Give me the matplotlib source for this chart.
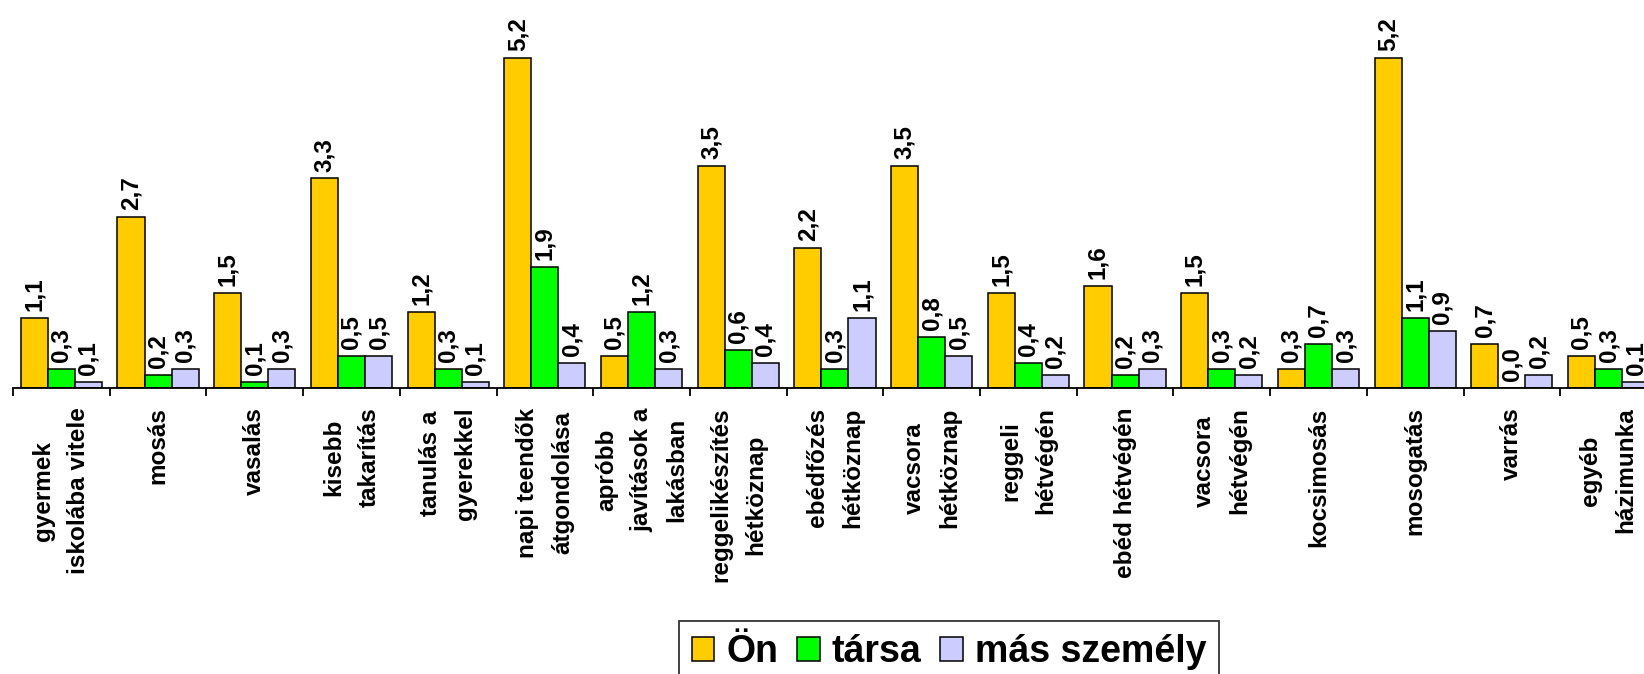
import numpy as np
import matplotlib
matplotlib.use("Agg")
import matplotlib.pyplot as plt

# ----------------------------
# Data
# ----------------------------
categories = [
    "gyermek\niskolába vitele", "mosás", "vasalás", "kisebb\ntakarítás",
    "tanulás a\ngyerekkel", "napi teendők\nátgondolása",
    "apróbb\njavítások a\nlakásban", "reggelikészítés\nhétköznap",
    "ebédfőzés\nhétköznap", "vacsora\nhétköznap", "reggeli\nhétvégén",
    "ebéd hétvégén", "vacsora\nhétvégén", "kocsimosás", "mosogatás",
    "varrás", "egyéb\nházimunka",
]
on = [1.1, 2.7, 1.5, 3.3, 1.2, 5.2, 0.5, 3.5, 2.2, 3.5, 1.5, 1.6, 1.5, 0.3, 5.2, 0.7, 0.5]
tarsa = [0.3, 0.2, 0.1, 0.5, 0.3, 1.9, 1.2, 0.6, 0.3, 0.8, 0.4, 0.2, 0.3, 0.7, 1.1, 0.0, 0.3]
mas = [0.1, 0.3, 0.3, 0.5, 0.1, 0.4, 0.3, 0.4, 1.1, 0.5, 0.2, 0.3, 0.2, 0.3, 0.9, 0.2, 0.1]

series = [("Ön", on, "#FFCC00"), ("társa", tarsa, "#00FF00"), ("más személy", mas, "#CCCCFF")]

plt.rcParams['font.family'] = ['Liberation Sans', 'DejaVu Sans']
plt.rcParams['font.weight'] = 'bold'

W, H = 1644, 674
fig = plt.figure(figsize=(W / 100, H / 100), dpi=100)
# axes extends past right edge, like the original (last group cut off)
x0 = 13 / W
step = 96.7 / W
ax = fig.add_axes([x0, (H - 388) / H, step * len(categories), 388 / H])

x = np.arange(len(categories))
bw = 0.28
for k, (name, vals, col) in enumerate(series):
    pos = x + (k - 1) * bw
    bars = ax.bar(pos, vals, bw, color=col, edgecolor='black', linewidth=1.1, label=name)
    for b, v in zip(bars, vals):
        ax.annotate(f"{v:.1f}".replace(".", ","), (b.get_x() + b.get_width() / 2, v),
                    xytext=(0, 5), textcoords='offset points', rotation=90,
                    ha='center', va='bottom', fontsize=17.5, fontweight='bold')

ax.set_xlim(-0.5, len(categories) - 0.5)
ax.set_ylim(0, 388 / 63.5)

for s in ['left', 'right', 'top']:
    ax.spines[s].set_visible(False)
ax.spines['bottom'].set_linewidth(1.3)
ax.set_yticks([])

# boundary ticks
ax.set_xticks(np.arange(len(categories) + 1) - 0.5)
ax.set_xticklabels([])
ax.tick_params(axis='x', which='major', length=6, width=1.3, direction='out')
# category labels
ax.set_xticks(x, minor=True)
ax.set_xticklabels(categories, minor=True, rotation=90, fontsize=17.5, fontweight='bold')
ax.tick_params(axis='x', which='minor', length=0, pad=14)
for lab in ax.get_xticklabels(minor=True):
    lab.set_multialignment('center')
    lab.set_linespacing(1.68)

leg = fig.legend(loc='upper center', bbox_to_anchor=(949 / W, 1 - 621 / H), ncol=3,
                 frameon=True, fancybox=False, edgecolor='black', fontsize=27,
                 handlelength=0.6, handleheight=0.6, handletextpad=0.32,
                 columnspacing=0.5, borderpad=0.35, borderaxespad=0)
leg.get_frame().set_linewidth(1.3)
for t in leg.get_texts():
    t.set_fontweight('bold')

fig.savefig("out.png", dpi=100)
